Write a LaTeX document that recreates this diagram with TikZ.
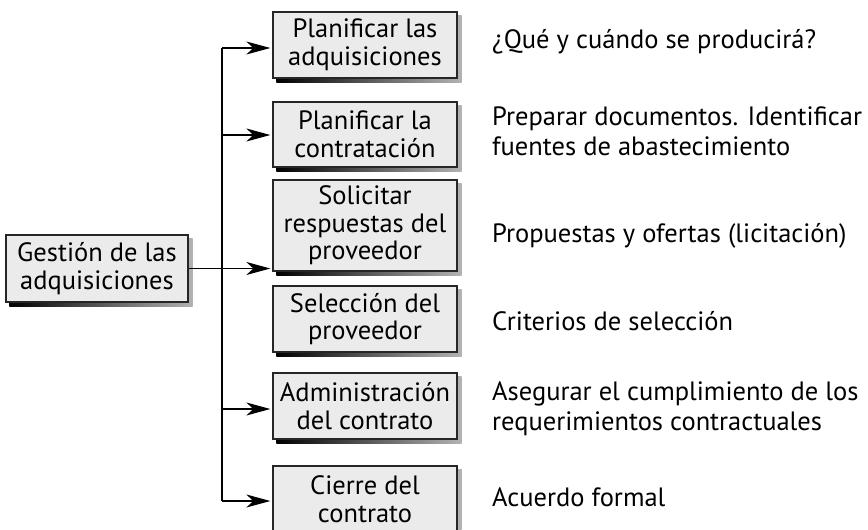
\documentclass[tikz,border=0pt]{standalone}
\usepackage{fontspec}
\setmainfont{PT Sans}
\usetikzlibrary{arrows.meta,backgrounds}
\begin{document}
\begin{tikzpicture}[x=1pt,y=-1pt,
 box/.style={draw=black!85, line width=1.3pt, fill=black!8, align=center, inner sep=0pt,
   minimum width=184pt, font=\fontsize{26.5}{27.5}\selectfont},
 desc/.style={anchor=base west, align=left, inner sep=0pt, font=\fontsize{26.5}{30}\selectfont},
 link/.style={line width=1.4pt},
 conn/.style={line width=1.4pt, -{Stealth[length=24pt,width=13pt,inset=7pt]}, shorten >=2pt},
 shadowfill/.style={left color=black, right color=black!30}
]
\useasboundingbox (0,0) rectangle (868,530);
\node[box, minimum width=182pt, minimum height=67pt] (main) at (97,268.5) {Gestión de las\\adquisiciones};
\node[box, minimum height=66pt] (b1) at (365,45) {Planificar las\\adquisiciones};
\node[box, minimum height=65pt] (b2) at (365,134.5) {Planificar la\\contratación};
\node[box, minimum height=91pt] (b3) at (365,225.5) {Solicitar\\respuestas del\\proveedor};
\node[box, minimum height=66pt] (b4) at (365,319) {Selección del\\proveedor};
\node[box, minimum height=66pt] (b5) at (365,406) {Administración\\del contrato};
\node[box, minimum height=66pt] (b6) at (365,499) {Cierre del\\contrato};

\begin{scope}[on background layer]
\foreach \n in {main,b1,b2,b3,b4,b5,b6}
  \shade[shadowfill] ([shift={(4,4)}]\n.south west) rectangle ([shift={(4,4)}]\n.north east);
\end{scope}

\node[desc] (t1) at (492,48) {¿Qué y cuándo se producirá?};
\node[desc] (t2) at (492,155) {Preparar documentos. Identificar\\fuentes de abastecimiento};
\node[desc] (t3) at (492,242) {Propuestas y ofertas (licitación)};
\node[desc] (t4) at (492,330) {Criterios de selección};
\node[desc] (t5) at (492,430) {Asegurar el cumplimiento de los\\requerimientos contractuales};
\node[desc] (t6) at (492,506) {Acuerdo formal};

\coordinate (j1) at (222,48);
\coordinate (j2) at (222,135);
\coordinate (j5) at (222,409);
\coordinate (j6) at (222,501);

\draw[link] (j1) -- (j6);
\draw[conn] (j1) -- (j1 -| b1.west);
\draw[conn] (j2) -- (j2 -| b2.west);
\draw[conn] (main.east) -- (main.east -| b3.west);
\draw[conn] (j5) -- (j5 -| b5.west);
\draw[conn] (j6) -- (j6 -| b6.west);
\end{tikzpicture}
\end{document}
